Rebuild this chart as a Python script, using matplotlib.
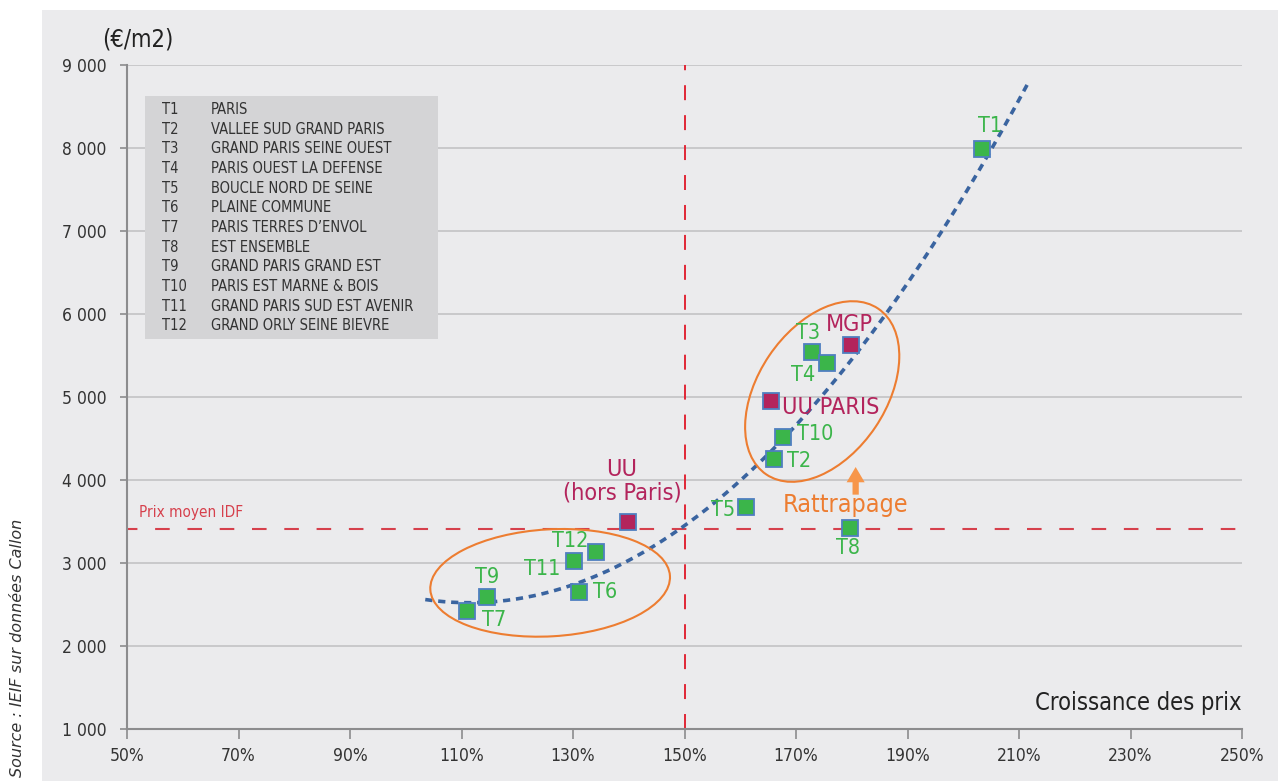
import numpy as np
import matplotlib.pyplot as plt
from matplotlib.patches import Ellipse, Rectangle
from matplotlib.transforms import ScaledTranslation
from matplotlib.ticker import FuncFormatter

plt.rcParams['font.family'] = ['DejaVu Sans']
plt.rcParams['font.stretch'] = 'condensed'

# territoires (croissance des prix en %, prix en €/m2)
codes = ['T1', 'T2', 'T3', 'T4', 'T5', 'T6', 'T7', 'T8', 'T9', 'T10', 'T11', 'T12']
noms = ['PARIS', 'VALLEE SUD GRAND PARIS', 'GRAND PARIS SEINE OUEST',
        'PARIS OUEST LA DEFENSE', 'BOUCLE NORD DE SEINE', 'PLAINE COMMUNE',
        'PARIS TERRES D\u2019ENVOL', 'EST ENSEMBLE', 'GRAND PARIS GRAND EST',
        'PARIS EST MARNE & BOIS', 'GRAND PARIS SUD EST AVENIR', 'GRAND ORLY SEINE BIEVRE']
croissance = [203.4, 166.1, 172.9, 175.5, 161.0, 131.1, 111.0, 179.7, 114.5, 167.7, 130.1, 134.1]
prix = [7985, 4255, 5545, 5405, 3680, 2650, 2420, 3425, 2595, 4520, 3030, 3135]

# agrégats
agg_noms = ['MGP', 'UU PARIS', 'UU\n(hors Paris)']
agg_croissance = [179.8, 165.6, 139.9]
agg_prix = [5625, 4950, 3490]

prix_moyen_idf = 3410
seuil_croissance = 150

# courbe de tendance
trend_x = [103.5, 110.9, 116.3, 121.7, 127.1, 131.9, 139.0, 145.0, 150.4, 158.2,
           172.2, 180.9, 186.3, 189.9, 193.1, 204.2, 211.7]
trend_y = [2647, 2494, 2461, 2514, 2654, 2795, 3036, 3298, 3518, 3880,
           4823, 5486, 5988, 6370, 6663, 7895, 8811]

vert = '#3bb54a'
bordeau = '#b3245c'
orange = '#ed7d31'
gris_fond = '#ebebed'

fig = plt.figure(figsize=(12.78, 7.81), dpi=100)
fig.patch.set_facecolor('white')
fig.patches.append(Rectangle((42 / 1278, 0), 1, 1 - 10 / 781, transform=fig.transFigure,
                             facecolor=gris_fond, edgecolor='none', zorder=-10))
ax = fig.add_axes([127 / 1278, 52 / 781, 1115 / 1278, 664 / 781])
ax.set_facecolor(gris_fond)

ax.set_xlim(50, 250)
ax.set_ylim(1000, 9000)
ax.set_xticks(np.arange(50, 251, 20))
ax.set_yticks(np.arange(1000, 9001, 1000))
ax.xaxis.set_major_formatter(FuncFormatter(lambda v, p: f'{int(v)}%'))
ax.yaxis.set_major_formatter(FuncFormatter(lambda v, p: f'{int(v):,}'.replace(',', ' ')))
ax.grid(axis='y', color='#bfbfc1', lw=1.1)
ax.set_axisbelow(True)
for s in ['top', 'right']:
    ax.spines[s].set_visible(False)
for s in ['left', 'bottom']:
    ax.spines[s].set_color('#8c8c8e')
    ax.spines[s].set_linewidth(1.5)
ax.tick_params(axis='y', length=5, width=1.2, color='#8c8c8e', labelsize=12.5,
               labelcolor='#333333', pad=10)
ax.tick_params(axis='x', length=7, width=1.2, color='#8c8c8e', labelsize=12.5,
               labelcolor='#333333', pad=6)

# lignes de référence
ax.axhline(prix_moyen_idf, color='#d6404c', lw=1.5, ls=(2, (7, 8.5)), zorder=2)
ax.axvline(seuil_croissance, color='#e02636', lw=1.4, ls=(0, (7.7, 7.7)), zorder=2)
ax.text(52.2, prix_moyen_idf + 150, 'Prix moyen IDF', color='#d6404c', fontsize=11,
        ha='left', va='baseline')

# tendance : lissage polynomial des points relevés
coef = np.polyfit(trend_x, trend_y, 3)
xs = np.linspace(trend_x[0], trend_x[-1], 200)
ax.plot(xs, np.polyval(coef, xs), color='#3a64a0', lw=2.6, ls=(0, (2, 1.6)), zorder=3)

# ellipses (en pixels autour d'un centre en données)
for cx, cy, w, h, ang in [(125.9, 2761, 240, 107, 3.3), (174.7, 5066, 200, 128, 56)]:
    ax.add_patch(Ellipse((0, 0), w, h, angle=ang, fill=False, edgecolor=orange, lw=1.5,
                         transform=ScaledTranslation(cx, cy, ax.transData), zorder=4))

# points
ax.plot(croissance, prix, 's', ms=11, mfc=vert, mec='#4f7fc0', mew=1.3, ls='none', zorder=5)
ax.plot(agg_croissance, agg_prix, 's', ms=11, mfc=bordeau, mec='#4f7fc0', mew=1.3,
        ls='none', zorder=5)

offsets = {
    'T1': (5.8, 16.6, 'center'), 'T2': (9.1, -1.4, 'left'), 'T3': (-2.9, 13.2, 'center'),
    'T4': (-17.3, -8.4, 'center'), 'T5': (-7.7, -2.4, 'right'), 'T6': (10.1, 0, 'left'),
    'T7': (10.4, -6.5, 'left'), 'T8': (-1.2, -14.8, 'center'), 'T9': (0.7, 14.4, 'center'),
    'T10': (9.6, 1.9, 'left'), 'T11': (-9.6, -6, 'right'), 'T12': (-18.7, 8.1, 'center'),
}
for c, x, y in zip(codes, croissance, prix):
    dx, dy, ha = offsets[c]
    ax.annotate(c, (x, y), xytext=(dx, dy), textcoords='offset points', ha=ha, va='center',
                color=vert, fontsize=15.5, zorder=6)

agg_offsets = [(-1, 15.1, 'center'), (7.5, -4.5, 'left'), (-4.5, 29.4, 'center')]
for n, x, y, (dx, dy, ha) in zip(agg_noms, agg_croissance, agg_prix, agg_offsets):
    ax.annotate(n, (x, y), xytext=(dx, dy), textcoords='offset points', ha=ha, va='center',
                color=bordeau, fontsize=16.8, linespacing=1.0, zorder=6)

# rattrapage
ax.annotate('', xy=(180.7, 4190), xytext=(180.7, 3790),
            arrowprops=dict(arrowstyle='simple,head_width=1.3,head_length=1.1,tail_width=0.45',
                            color='#f7964a', mutation_scale=10, lw=0), zorder=6)
ax.text(178.9, 3430 + 1000 * (529 - 513.3) / 83, 'Rattrapage', color=orange, fontsize=18,
        ha='center', va='baseline', zorder=6)

ax.text(250, 1229, 'Croissance des prix', fontsize=17, color='#222222', ha='right',
        va='baseline')

# légende des territoires
ax.add_patch(Rectangle((0.0161, 0.5878), 0.2626, 0.3655, transform=ax.transAxes,
                       facecolor='#d4d4d6', edgecolor='none', zorder=7))
for i, (c, n) in enumerate(zip(codes, noms)):
    yy = (729 - (109.3 + 19.7 * i)) / 664
    ax.text(0.0317, yy, c, transform=ax.transAxes, fontsize=10.5, color='#333333',
            va='center', zorder=8)
    ax.text(0.0751, yy, n, transform=ax.transAxes, fontsize=10.5, color='#333333',
            va='center', zorder=8)

fig.text(138 / 1278, 1 - 39 / 781, '(€/m2)', fontsize=17, color='#222222', ha='center',
         va='center')
fig.text(18 / 1278, 1 - 648 / 781, 'Source : IEIF sur données Callon', rotation=90,
         style='italic', fontstretch='normal', fontsize=11.5, color='#333333',
         ha='center', va='center')

fig.savefig('out.png', dpi=100, facecolor=fig.get_facecolor())
